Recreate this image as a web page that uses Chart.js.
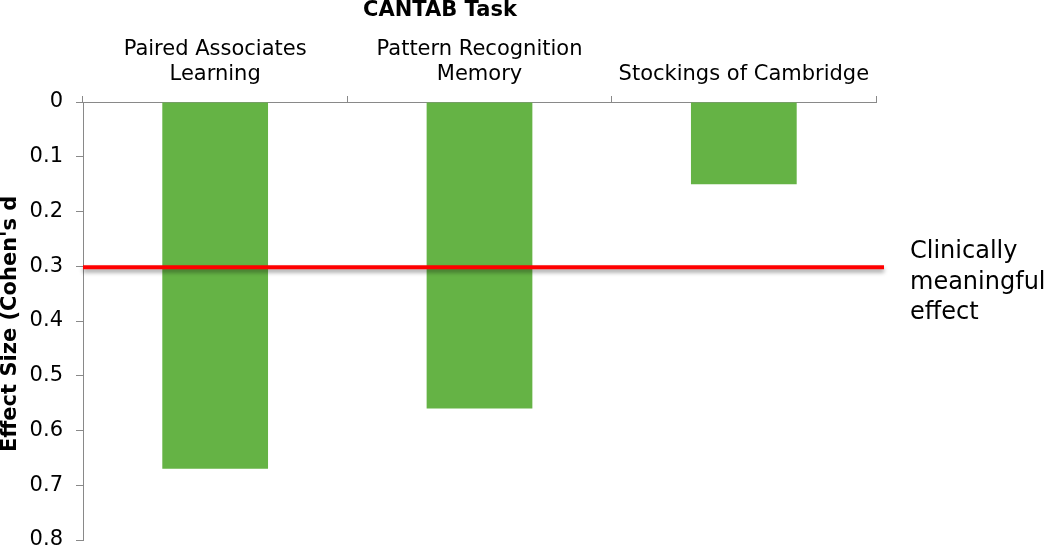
<!DOCTYPE html>
<html>
<head>
<meta charset="utf-8">
<script src="https://cdn.jsdelivr.net/npm/chart.js@4.4.0/dist/chart.umd.min.js"></script>
<style>
html,body{margin:0;padding:0;background:#fff;}
#wrap{width:1048px;height:547px;position:relative;}
</style>
</head>
<body>
<div id="wrap"><canvas id="c" width="1048" height="547"></canvas></div>
<script>
const categories = [["Paired Associates","Learning"],["Pattern Recognition","Memory"],["Stockings of Cambridge"]];
const effectSizes = [0.67, 0.56, 0.15];
const yTicks = [0, 0.1, 0.2, 0.3, 0.4, 0.5, 0.6, 0.7, 0.8];
const thresholdValue = [0.3];
const thresholdLabel = ["Clinically","meaningful","effect"];
const xTitle = "CANTAB Task";
const yTitle = "Effect Size (Cohen's d";

const FONT = "'DejaVu Sans', Verdana, sans-serif";
const AXIS = '#898989';

const extras = {
  id: 'extras',
  afterDatasetsDraw(chart) {
    const ctx = chart.ctx;
    const y = chart.scales.y;
    const area = chart.chartArea;
    const py = y.getPixelForValue(thresholdValue[0]);
    ctx.save();
    ctx.shadowColor = 'rgba(0,0,0,0.4)';
    ctx.shadowBlur = 4;
    ctx.shadowOffsetY = 3;
    ctx.strokeStyle = '#ff0000';
    ctx.lineWidth = 4;
    ctx.beginPath();
    ctx.moveTo(area.left, py + 1);
    ctx.lineTo(area.right + 8, py + 1);
    ctx.stroke();
    ctx.restore();
  },
  afterDraw(chart) {
    const ctx = chart.ctx;
    const y = chart.scales.y;
    const py = y.getPixelForValue(thresholdValue[0]);
    ctx.save();
    ctx.fillStyle = '#000';
    ctx.textBaseline = 'middle';
    ctx.textAlign = 'left';
    ctx.font = "24px " + FONT;
    thresholdLabel.forEach((t, i) => ctx.fillText(t, 910, py - 14 + i * 30.5));
    ctx.font = "bold 21px " + FONT;
    ctx.textAlign = 'center';
    ctx.fillText(xTitle, 440, 11);
    ctx.translate(11, 452);
    ctx.rotate(-Math.PI / 2);
    ctx.textAlign = 'left';
    ctx.font = "bold 21px " + FONT;
    ctx.fillText(yTitle, 0, 0);
    ctx.restore();
  }
};

new Chart(document.getElementById('c'), {
  type: 'bar',
  data: {
    labels: categories,
    datasets: [{
      data: effectSizes,
      backgroundColor: '#65B345',
      borderWidth: 0,
      categoryPercentage: 1,
      barPercentage: 0.4
    }]
  },
  options: {
    responsive: false,
    animation: false,
    events: [],
    layout: { padding: { left: 0, top: 0, right: 172, bottom: 7 } },
    plugins: { legend: { display: false }, tooltip: { enabled: false }, title: { display: false } },
    scales: {
      x: {
        position: 'top',
        afterFit(s) { s.height = 102; s.paddingLeft = 0; s.paddingRight = 0; },
        grid: { offset: true, drawOnChartArea: false, color: AXIS, tickLength: 6, tickColor: AXIS },
        border: { color: AXIS, width: 1 },
        ticks: { color: '#000', font: { family: FONT, size: 21 }, padding: 9, maxRotation: 0, autoSkip: false }
      },
      y: {
        reverse: true,
        min: 0,
        max: 0.8,
        afterFit(s) { s.width = 83; s.paddingTop = 0; s.paddingBottom = 0; },
        afterBuildTicks(s) { s.ticks = yTicks.map(v => ({ value: v })); },
        grid: { drawOnChartArea: false, color: AXIS, tickLength: 7, tickColor: AXIS },
        border: { color: AXIS, width: 1 },
        ticks: { color: '#000', font: { family: FONT, size: 21 }, padding: 13,
          callback: (v) => String(Math.round(v * 10) / 10) }
      }
    }
  },
  plugins: [extras]
});
</script>
</body>
</html>
